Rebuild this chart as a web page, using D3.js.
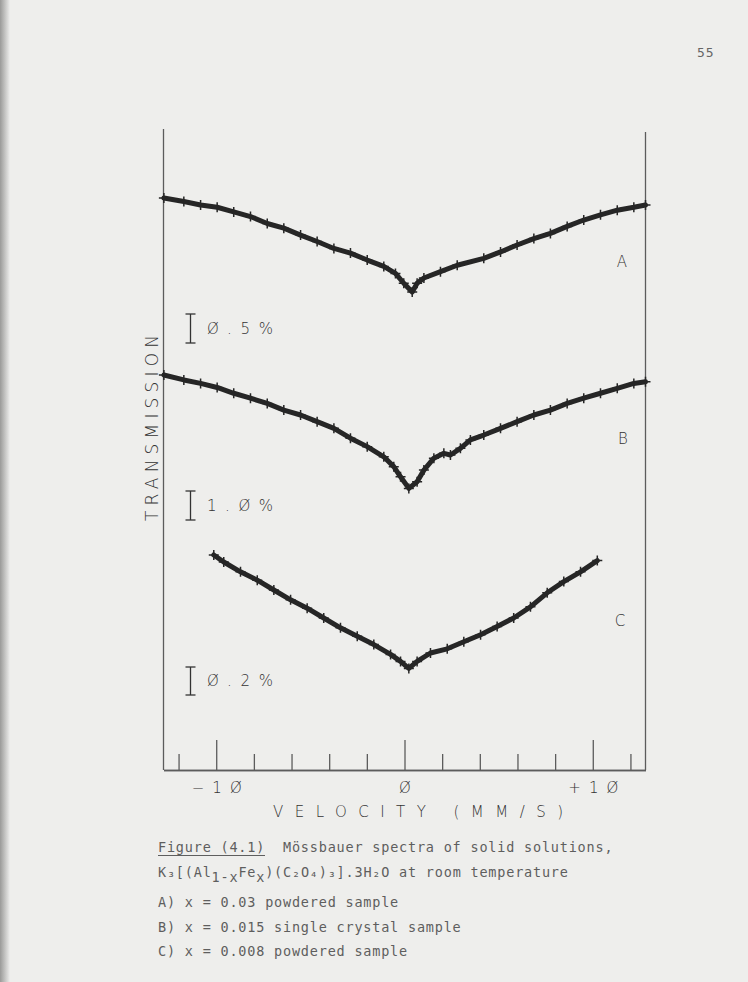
<!DOCTYPE html>
<html><head><meta charset="utf-8">
<script src="https://cdn.jsdelivr.net/npm/d3@7"></script>
<style>
html,body{margin:0;padding:0;background:#eeeeec;}
svg{display:block;}
</style></head><body>
<svg id="c" width="748" height="982"></svg>
<script>
// ---- data (velocity in mm/s, relative transmission in %) ----
const velA = [-12.78,-11.72,-10.83,-9.95,-9.07,-8.18,-7.29,-6.41,-5.52,-4.64,-3.75,-2.87,-1.98,-1.10,-0.48,-0.04,0.41,0.67,1.03,1.91,2.80,4.21,5.10,5.98,6.87,7.75,8.64,9.52,10.41,11.30,12.18,12.80];
const transA = [100.00,99.94,99.88,99.84,99.76,99.68,99.56,99.48,99.36,99.25,99.13,99.05,98.93,98.82,98.70,98.53,98.38,98.53,98.62,98.73,98.84,98.96,99.07,99.19,99.30,99.39,99.51,99.62,99.71,99.79,99.84,99.88];

const velB = [-12.78,-11.72,-10.83,-9.95,-9.07,-8.18,-7.29,-6.41,-5.52,-4.64,-3.75,-2.87,-1.98,-1.10,-0.57,-0.21,0.23,0.67,1.03,1.56,2.09,2.44,2.97,3.50,4.21,5.10,5.98,6.87,7.75,8.64,9.52,10.41,11.30,12.18,12.80];
const transB = [100.00,99.83,99.71,99.57,99.37,99.20,99.02,98.79,98.62,98.39,98.16,97.82,97.53,97.18,96.84,96.49,96.09,96.32,96.72,97.13,97.30,97.24,97.47,97.76,97.93,98.16,98.39,98.62,98.79,99.02,99.20,99.37,99.54,99.71,99.77];

const velC = [-10.13,-9.60,-8.71,-7.82,-6.94,-6.05,-5.17,-4.29,-3.40,-2.51,-1.63,-0.74,-0.21,0.23,0.67,1.38,2.27,3.15,4.04,4.92,5.80,6.69,7.58,8.46,9.35,10.24];
const transC = [100.00,99.95,99.88,99.82,99.75,99.68,99.62,99.55,99.48,99.42,99.36,99.29,99.24,99.19,99.24,99.30,99.33,99.38,99.43,99.49,99.55,99.63,99.73,99.81,99.88,99.96];

const seriesNames = ["A", "B", "C"];
const scaleBarValues = [0.5, 1.0, 0.2];
const scaleBarTops = [98.0, 96.0, 99.2];
const scaleBarLabels = ["Ø.5%", "1.Ø%", "Ø.2%"];
const majorTicks = [-10, 0, 10];
const minorTicks = [-12, -8, -6, -4, -2, 2, 4, 6, 8, 12];
const velocityDomain = [-12.8, 12.8];

const xTitle = "VELOCITY (MM/S)";
const yTitle = "TRANSMISSION";
const pageNumber = "55";

// ---- drawing ----
const svg = d3.select("#c");
const ink = "#262626", frameInk = "#5c5c5c", plotFont = "'DejaVu Sans', sans-serif";
const typeFont = "'DejaVu Sans Mono', monospace", typeInk = "#5e5e5e";

// scanned page left edge
const defs = svg.append("defs");
const g0 = defs.append("linearGradient").attr("id", "edge");
g0.append("stop").attr("offset", "0%").attr("stop-color", "#9a9a98");
g0.append("stop").attr("offset", "100%").attr("stop-color", "#eeeeec");
svg.append("rect").attr("x", 0).attr("y", 0).attr("width", 10).attr("height", 982).attr("fill", "url(#edge)");

const x = d3.scaleLinear().domain(velocityDomain).range([163.5, 645.5]);
const yA = d3.scaleLinear().domain([100, 98]).range([198, 314]);
const yB = d3.scaleLinear().domain([100, 96]).range([375, 491]);
const yC = d3.scaleLinear().domain([100, 99.2]).range([555, 667]);
const yScales = [yA, yB, yC];
const series = [[velA, transA], [velB, transB], [velC, transC]];
const axisY = 770;

// frame lines (left/right)
svg.append("line").attr("x1", x(velocityDomain[0])).attr("x2", x(velocityDomain[0]))
  .attr("y1", 129).attr("y2", axisY).attr("stroke", frameInk).attr("stroke-width", 1.3);
svg.append("line").attr("x1", x(velocityDomain[1])).attr("x2", x(velocityDomain[1]))
  .attr("y1", 132).attr("y2", axisY).attr("stroke", frameInk).attr("stroke-width", 1.3);

// bottom axis with inward ticks
const axMinor = svg.append("g").attr("transform", `translate(0,${axisY})`)
  .call(d3.axisBottom(x).tickValues(minorTicks).tickSize(-16).tickSizeOuter(0).tickFormat(""));
const axMajor = svg.append("g").attr("transform", `translate(0,${axisY})`)
  .call(d3.axisBottom(x).tickValues(majorTicks).tickSize(-30).tickSizeOuter(0)
    .tickFormat(d => (d > 0 ? "+" : d < 0 ? "−" : "") + String(Math.abs(d)).replace(/0/g, "Ø")));
[axMinor, axMajor].forEach(a => {
  a.selectAll("path.domain").attr("stroke", frameInk).attr("stroke-width", 1.3);
  a.selectAll(".tick line").attr("stroke", frameInk).attr("stroke-width", 1.3);
});
axMajor.selectAll(".tick text").attr("y", 23).attr("dy", 0)
  .attr("font-family", plotFont).attr("font-size", 15).attr("font-weight", 200)
  .attr("letter-spacing", 8).attr("fill", "#333")
  .attr("dx", 4);

// axis titles
svg.append("text").attr("x", 273).attr("y", 817).attr("textLength", 290).attr("lengthAdjust", "spacing")
  .attr("font-family", plotFont).attr("font-size", 15).attr("font-weight", 200).attr("fill", "#333").text(xTitle);
svg.append("text").attr("transform", "translate(158,521) rotate(-90)").attr("textLength", 186).attr("lengthAdjust", "spacing")
  .attr("font-family", plotFont).attr("font-size", 17).attr("font-weight", 200).attr("fill", "#333").text(yTitle);

// spectra
const line = d3.line().curve(d3.curveLinear);
series.forEach(([vel, tr], i) => {
  const y = yScales[i];
  const pts = vel.map((v, k) => [x(v), y(tr[k])]);
  svg.append("path").attr("d", line(pts)).attr("fill", "none").attr("stroke", ink)
    .attr("stroke-width", 5).attr("stroke-linejoin", "round").attr("stroke-linecap", "round");
  svg.append("g").selectAll("path").data(pts).join("path")
    .attr("d", d => `M${d[0]-5},${d[1]}h10M${d[0]},${d[1]-5}v10`)
    .attr("stroke", ink).attr("stroke-width", 1.5);
});

// series letters
const letterPos = [[622, 267], [623, 444], [620, 626]];
seriesNames.forEach((n, i) => {
  svg.append("text").attr("x", letterPos[i][0]).attr("y", letterPos[i][1]).attr("text-anchor", "middle")
    .attr("font-family", plotFont).attr("font-size", 15).attr("font-weight", 200).attr("fill", "#333").text(n);
});

// scale bars
scaleBarValues.forEach((v, i) => {
  const y = yScales[i];
  const y1 = y(scaleBarTops[i]), y2 = y(scaleBarTops[i] - v);
  const bx = 190.5;
  const g = svg.append("g").attr("stroke", "#333").attr("stroke-width", 1.3);
  g.append("line").attr("x1", bx).attr("x2", bx).attr("y1", y1).attr("y2", y2);
  g.append("line").attr("x1", bx - 5).attr("x2", bx + 5).attr("y1", y1).attr("y2", y1);
  g.append("line").attr("x1", bx - 5).attr("x2", bx + 5).attr("y1", y2).attr("y2", y2);
  svg.append("text").attr("x", 207).attr("y", (y1 + y2) / 2 + 5).attr("textLength", 66).attr("lengthAdjust", "spacing")
    .attr("font-family", plotFont).attr("font-size", 15).attr("font-weight", 200).attr("fill", "#333").text(scaleBarLabels[i]);
});

// page number
svg.append("text").attr("x", 697).attr("y", 57).attr("font-family", typeFont).attr("font-size", 13)
  .attr("fill", "#666").attr("letter-spacing", 1).text(pageNumber);

// caption
const cap = svg.append("g").attr("font-family", typeFont).attr("font-size", 13.5)
  .attr("letter-spacing", 0.8).attr("fill", typeInk).style("white-space", "pre");
const l1 = cap.append("text").attr("x", 158).attr("y", 852);
l1.append("tspan").text("Figure (4.1)");
l1.append("tspan").text("\u00A0\u00A0Mössbauer spectra of solid solutions,");
cap.append("line").attr("x1", 158).attr("x2", 265).attr("y1", 855.5).attr("y2", 855.5)
  .attr("stroke", typeInk).attr("stroke-width", 1);
const l2 = cap.append("text").attr("x", 158).attr("y", 877);
l2.append("tspan").text("K₃[(Al");
l2.append("tspan").attr("dy", 5).text("1-x");
l2.append("tspan").attr("dy", -5).text("Fe");
l2.append("tspan").attr("dy", 5).text("x");
l2.append("tspan").attr("dy", -5).text(")(C₂O₄)₃].3H₂O at room temperature");
const capLines = ["A) x = 0.03 powdered sample", "B) x = 0.015 single crystal sample", "C) x = 0.008 powdered sample"];
capLines.forEach((t, i) => cap.append("text").attr("x", 158).attr("y", 907 + i * 24.5).text(t));
</script>
</body></html>
